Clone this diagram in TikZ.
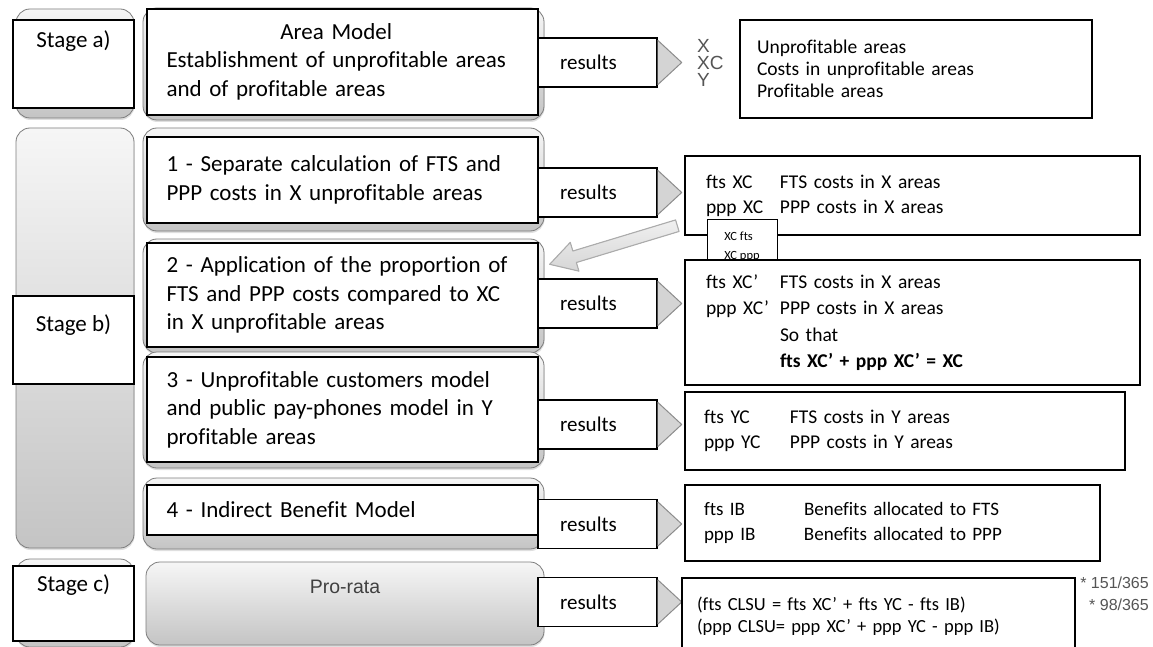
\documentclass[tikz,border=0pt]{standalone}
\usepackage{fontspec}
\setmainfont{Carlito}[Ligatures={NoCommon,NoContextual}]
\newfontfamily\helv{Liberation Sans}
\usepackage{tikz}
\usetikzlibrary{calc,positioning,shadows}
\definecolor{PadTop}{RGB}{246,246,246}
\definecolor{PadBot}{RGB}{196,196,196}
\definecolor{PadEdge}{RGB}{125,125,125}
\definecolor{ChevFill}{RGB}{212,212,212}
\definecolor{ChevEdge}{RGB}{140,140,140}
\definecolor{ScanGray}{RGB}{85,85,85}
\newcommand{\fStep}{\fontsize{23}{28.5}\selectfont}
\newcommand{\fRes}{\fontsize{21}{25}\selectfont}
\newcommand{\fOut}{\fontsize{19.5}{25}\selectfont}
\newcommand{\fMemo}{\fontsize{12.5}{19}\selectfont}
\newcommand{\fScan}{\helv\fontsize{19}{17}\selectfont}
\newcommand{\kv}[3]{\makebox[#1][l]{#2}#3}
\tikzset{
  backpad/.style={draw=PadEdge, line width=0.8pt, rounded corners=14pt, top color=PadTop, bottom color=PadBot, drop shadow={opacity=0.25, shadow xshift=0.5pt, shadow yshift=-2pt}},
  stagebox/.style={draw, line width=1.4pt, fill=white, minimum width=121pt},
  stagelabel/.style={anchor=north, yshift=-11pt, inner sep=0pt, font=\fStep},
  prolabel/.style={yshift=17pt, inner sep=0pt, text=black!75, font=\helv\fontsize{19.5}{21}\selectfont},
  stepbox/.style={draw, line width=1.4pt, fill=white, minimum width=391pt, text width=352pt, inner xsep=19.5pt, inner ysep=2pt, align=left, font=\fStep},
  resbox/.style={draw, line width=1.4pt, fill=white, minimum width=119pt, minimum height=49pt, text width=75pt, inner xsep=22pt, align=left, font=\fRes},
  outbox/.style={draw, line width=1.4pt, fill=white, align=left, inner xsep=21pt, inner ysep=2pt, font=\fOut},
  memo/.style={draw, line width=1pt, fill=white, minimum width=70pt, minimum height=55pt, align=left, font=\fMemo},
  scan/.style={inner sep=0pt, text=ScanGray, font=\fScan},
  chev/.style={fill=ChevFill, draw=ChevEdge, line width=1pt, line join=round},
  backarrow/.style={top color=gray!12, bottom color=gray!32, draw=gray!65, line width=1.1pt, line join=round}
}
\begin{document}
\begin{tikzpicture}[x=1pt, y=-1pt]
\useasboundingbox (0,0) rectangle (1153,647);
\fill[white] (0,0) rectangle (1153,647);
\node[backpad, minimum width=118pt, minimum height=109pt] (padA) at (75,63.5) {};
\node[backpad, minimum width=118pt, minimum height=420pt] (padB) at (75,338) {};
\node[backpad, minimum width=118pt, minimum height=88pt] (padC) at (75,603) {};
\node[backpad, minimum width=401pt, minimum height=112pt] (padA1) at (343.5,64) {};
\node[backpad, minimum width=401pt, minimum height=103pt] (padB1) at (343.5,179.5) {};
\node[backpad, minimum width=401pt, minimum height=114pt] (padB2) at (343.5,296) {};
\node[backpad, minimum width=401pt, minimum height=116pt] (padB3) at (343.5,410) {};
\node[backpad, minimum width=401pt, minimum height=71pt] (padB4) at (343.5,513.5) {};
\node[backpad, minimum width=398pt, minimum height=83pt, label={[prolabel]center:Pro-rata}] (proRata) at (345,603.5) {};

\node[stagebox, minimum height=88pt, label={[stagelabel]north:Stage a)}] (stageA) at (73.5,64) {};
\node[stagebox, minimum height=88pt, label={[stagelabel, yshift=-8pt]north:Stage b)}] (stageB) at (73.5,340) {};
\node[stagebox, minimum height=75pt, label={[stagelabel, yshift=2pt]north:Stage c)}] (stageC) at (73.5,603.5) {};

\node[stepbox, minimum height=106pt] (stepA) at (342.5,62) {\begin{tabular}{@{}l@{}}\multicolumn{1}{@{}c@{}}{Area Model}\\Establishment of unprofitable areas\\and of profitable areas\end{tabular}};
\node[stepbox, minimum height=86pt] (stepB1) at (342.5,180) {1 - Separate calculation of FTS and\\PPP costs in X unprofitable areas};
\node[stepbox, minimum height=104pt] (stepB2) at (342.5,295) {2 - Application of the proportion of\\FTS and PPP costs compared to XC\\in X unprofitable areas};
\node[stepbox, minimum height=105pt] (stepB3) at (342.5,409.5) {3 - Unprofitable customers model\\and public pay-phones model in Y\\profitable areas};
\node[stepbox, minimum height=50pt] (stepB4) at (342.5,510) {4 - Indirect Benefit Model};

\node[resbox] (resA) at (597.5,62.5) {results};
\node[resbox] (resB1) at (597.5,192.5) {results};
\node[resbox] (resB2) at (597.5,303.5) {results};
\node[resbox] (resB3) at (597.5,424.5) {results};
\node[resbox] (resB4) at (597.5,524) {results};
\node[resbox] (resC) at (597.5,602) {results};
\foreach \r in {resA,resB1,resB2,resB3,resB4,resC}
  \filldraw[chev] ([yshift=-3pt]\r.north east) -- ($(\r.east)+(24,0)$) -- ([yshift=3pt]\r.south east);

\node[scan, anchor=west, align=left] (areaKeys) at (697,63) {X\\XC\\Y};
\node[outbox, minimum width=352pt, minimum height=98pt, text width=318pt, inner xsep=17pt, font=\fontsize{19.5}{22}\selectfont] (outA) at (916,69) {Unprofitable areas\\Costs in unprofitable areas\\Profitable areas};
\node[outbox, minimum width=455pt, minimum height=79pt, text width=413pt] (outB1) at (912.5,195.5) {\kv{74pt}{fts XC}{FTS costs in X areas}\\\kv{74pt}{ppp XC}{PPP costs in X areas}};
\node[memo] (memo) at (742,246.5) {XC fts\\XC ppp};
\node[outbox, minimum width=455pt, minimum height=125pt, text width=413pt, font=\fontsize{19.5}{26.5}\selectfont] (outB2) at (912.5,322.5) {\kv{74pt}{fts XC’}{FTS costs in X areas}\\\kv{74pt}{ppp XC’}{PPP costs in X areas}\\\hspace*{74pt}So that\\\hspace*{74pt}\textbf{fts XC’ + ppp XC’ = XC}};
\node[outbox, minimum width=440pt, minimum height=78pt, text width=402pt, inner xsep=19pt] (outB3) at (905,431) {\kv{86pt}{fts YC}{FTS costs in Y areas}\\\kv{86pt}{ppp YC}{PPP costs in Y areas}};
\node[outbox, minimum width=415pt, minimum height=76pt, text width=377pt, inner xsep=19pt, font=\fontsize{19}{25}\selectfont] (outB4) at (892.5,523) {\kv{100pt}{fts IB}{Benefits allocated to FTS}\\\kv{100pt}{ppp IB}{Benefits allocated to PPP}};
\node[scan, anchor=east, align=right, font=\helv\fontsize{16}{22}\selectfont] (ratio) at (1149,594) {* 151/365\\* 98/365};
\node[outbox, minimum width=393pt, minimum height=76pt, text width=363pt, inner xsep=15pt, font=\fontsize{18.5}{22}\selectfont] (outC) at (878.5,616) {(fts CLSU = fts XC’ + fts YC - fts IB)\\(ppp CLSU= ppp XC’ + ppp YC - ppp IB)};

\coordinate (backTail) at ($(outB1.south west)+(-7,-10)$);
\coordinate (backTip) at ($(stepB2.north east)+(11,22)$);
\coordinate (backNeck) at ($(backTip)!26pt!(backTail)$);
\filldraw[backarrow] ($(backTail)!6pt!90:(backTip)$) -- ($(backNeck)!6pt!90:(backTip)$) -- ($(backNeck)!15pt!90:(backTip)$) -- (backTip) -- ($(backNeck)!15pt!-90:(backTip)$) -- ($(backNeck)!6pt!-90:(backTip)$) -- ($(backTail)!6pt!-90:(backTip)$) -- cycle;
\end{tikzpicture}
\end{document}
